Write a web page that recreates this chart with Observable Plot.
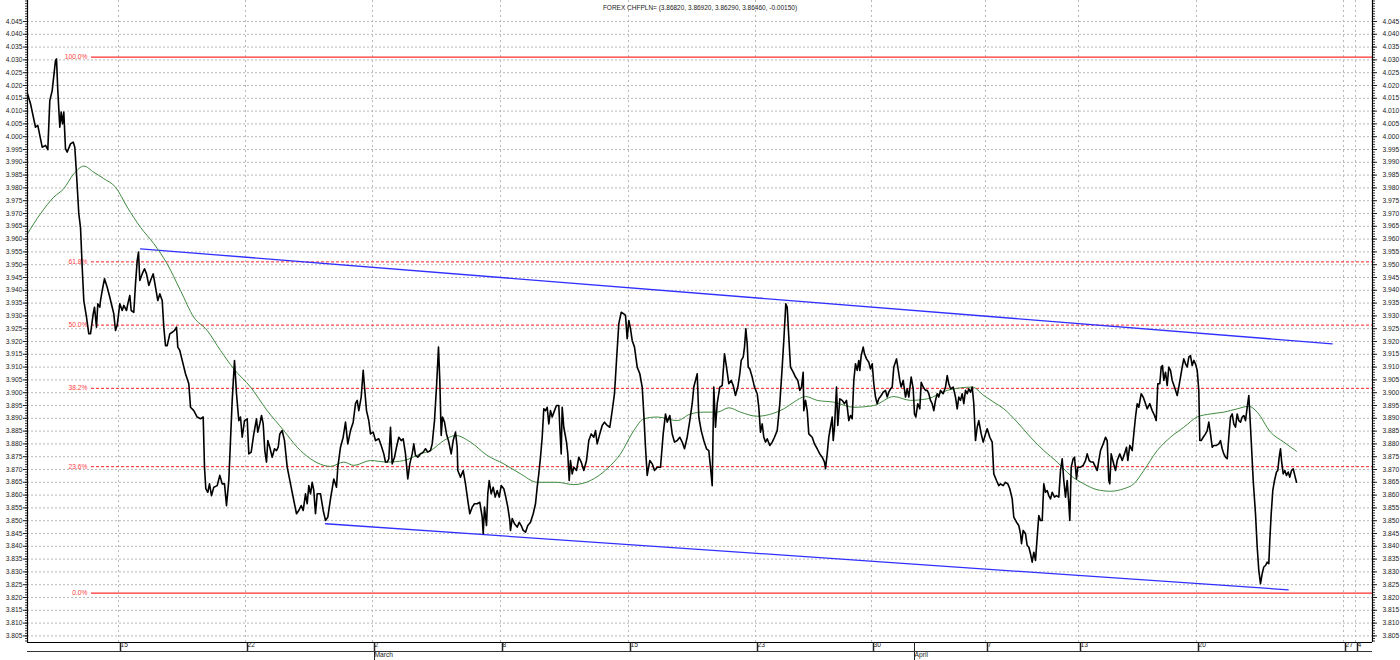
<!DOCTYPE html>
<html>
<head>
<meta charset="utf-8">
<script src="https://cdn.jsdelivr.net/npm/d3@7"></script>
<script src="https://cdn.jsdelivr.net/npm/@observablehq/plot@0.6"></script>
<style>
  html, body { margin: 0; padding: 0; background: #fff; overflow: hidden; }
  #chart { width: 1400px; height: 660px; }
</style>
</head>
<body>
<div id="chart"></div>
<script>
// ---- data (x = bar position along the time axis, y = CHF/PLN price) ----
const title = "FOREX CHFPLN= (3.86820, 3.86920, 3.86290, 3.86460, -0.00150)";

const priceT = [0,3,8,10.3,14.7,18,20.3,22.3,24.7,28,29,30.3,32.3,33.7,35,36.3,38,39.7,43,45.7,47.3,49,51.3,53,54.7,56.3,59,61.3,63,65.7,67,69,70.3,72.3,73,74.7,77,79.7,82.3,84.7,86.3,88,89.7,92.3,94.7,96.3,99,100.3,102.3,103.7,106.3,108,109.7,111,112.3,114.7,117,119,121.3,123.7,125.7,128,130.3,132.3,134.7,136.3,138,139.7,142.3,144.7,147,149,150.3,152.3,154.7,158,161.3,163,166.3,169.7,173,175.7,177,178.3,180.3,182,184,186.3,189.7,192.3,194.7,197,199,201.3,203,204.7,207,209,211.3,213,214.7,217,219.7,221.3,223.7,226.3,229,230.3,232.3,234,235.7,237.3,239,240.3,242.3,244.7,247,249,250.7,252.3,254.7,257,259.7,263,266.3,269,271.3,273.7,275.7,278,279.7,281.3,283,284.7,286.3,288,289.7,293,295.7,298,300.3,
303,306.3,309,310.3,313,315.7,318,320.3,323,325.7,328,329.7,331.3,333.7,335.7,337,339,341.3,343,345.7,348,351.3,353.7,356.3,358,359.7,361.3,363,364.7,367,369,371.3,373.7,375.7,378,380.3,382.3,384.7,386.3,388,390.3,393,395.7,398,400.3,403,404.7,407,409,411,412.3,413.7,415,417,419,421.3,423.7,425.7,428,429.7,430.3,433,435.7,438,440.3,442.3,444.7,447,449.7,452.3,454.7,455.7,457,459,460.3,461.7,463.7,465.7,467.7,469.7,471.7,473.7,476.3,478.3,480.3,482.3,483,484.7,487,489.7,491.7,493.7,495.7,498,500.3,503,505.7,508,509.7,511.3,513,514.7,516.3,518,519.7,521.3,523,524.7,527,529,531.3,532.3,533.7,534.7,536.3,539,540.3,541.7,543,544.7,546.3,549,551.3,553.7,556.3,559,561.3,563.7,566.3,568,569.7,572.3,574.7,577,579.7,582.3,584.7,587,589,591.3,593.7,596.3,598,599.7,601.3,603,604.7,607,609.7,612.3,614.7,616.3,618,619.7,622.3,624.7,627,629.7,
633,635.7,638,639.7,642.3,644.7,647,649.7,652.3,654.7,657,659.7,662.3,664.7,666.3,668,669.7,671.3,673.7,676.3,679,681.3,683,684.7,686.3,688,689.7,692.3,694.7,697,699,701.3,703.7,705.7,708,710.3,712.3,713.7,715.7,717,718.3,719.7,720.7,722.3,724.7,727,729.7,731.3,733,734.7,736.3,738,739.7,742.3,744.7,747,749.7,752.3,754.7,756.3,758.3,759.7,761.3,763,765.7,768,770.3,772.3,774,775.7,776.3,778,779.7,781.3,784.7,787,789.7,792.3,794.7,797,798,799.7,801.3,803,804.7,805.7,807,809,810.3,812.3,814.7,817,819,821.3,823,824.7,826.3,828,829.7,831.3,832.3,833.7,835.7,837,839,841.3,843,844.7,846.3,848,849.7,851.3,853.7,855.7,858,859.7,861.3,863,864.7,866.3,869,870.3,872.3,873.7,875.7,878,879.7,881.3,883.7,885.7,887,888.3,890.3,892.3,893.7,895.7,898,899.7,901.3,903,904.7,906.3,908,909.7,911.3,913,915.7,918,919.7,921.3,923,925.7,928,929.7,931.3,933,934.7,936.3,938,939.7,941.3,943,944.7,946.3,948,949.7,951.3,953.7,955.7,958,959.7,962.3,
964.7,966.3,969,971.3,973,975.7,978,980.3,982.3,984.7,986.3,989,991.3,993,994,995.7,998,999.7,1001.3,1003,1004.7,1006.3,1008,1009.7,1011.3,1013,1014.7,1016.3,1018,1019.7,1021.3,1023,1024.7,1027,1029,1031.3,1033,1034.7,1036.3,1038,1039.7,1041.3,1042.3,1043.7,1045.7,1047,1049,1050.3,1053,1055.7,1058,1059.7,1061.7,1063.7,1065.7,1068,1069.7,1071.3,1073,1075.7,1078,1079.7,1081.3,1082.3,1083.7,1085.7,1088,1089.7,1092.3,1094.7,1097,1099,1100.3,1102.3,1104.7,1106.3,1108,1109.7,1111.3,1113.7,1115.7,1118,1119.7,1122.3,1124.7,1127,1128.7,1130.3,1132.3,1133.7,1135,1136.3,1138,1139.7,1141.3,1143,1144.7,1147,1149.7,1151.3,1153,1154.7,1156.3,1158,1159.7,1161.3,1163,1164.7,1166.3,1168,1169.7,1171.3,1172.3,1173.7,1175.7,1178,1179.7,1181.3,1183,1184.7,1186.3,1189,1191.3,1193,1194.7,1196.3,1198,1199.7,1201.3,1203,1204.7,1206.3,1208,1209.7,1211.3,1213,1214.7,1216.3,1218,1219.7,1221.3,1222.3,1223.7,1225.7,1228,1229.7,1231.3,1233,1234.7,1236.3,1238,1239.7,1241.3,1242.3,1243.7,1245.3,1247,1249,1250.3,1251.7,1253,1254,1255.7,1257.3,1259,1260.7,1262.3,1264,1265.7,1267.3,1269];

const priceV = [4.0168,4.0129,4.0037,4.0044,3.9959,3.9966,3.9949,4.0141,4.0180,4.0298,4.0304,4.0180,4.0037,4.0096,4.0050,4.0096,3.9953,3.9940,3.9972,3.9979,3.9959,3.9855,3.9699,3.9646,3.9490,3.9360,3.9295,3.9230,3.9230,3.9308,3.9334,3.9256,3.9347,3.9334,3.9360,3.9399,3.9445,3.9412,3.9373,3.9334,3.9308,3.9243,3.9263,3.9347,3.9321,3.9341,3.9321,3.9347,3.9380,3.9321,3.9314,3.9425,3.9516,3.9549,3.9438,3.9464,3.9484,3.9464,3.9419,3.9445,3.9464,3.9412,3.9360,3.9386,3.9360,3.9256,3.9184,3.9184,3.9230,3.9236,3.9243,3.9256,3.9178,3.9165,3.9126,3.9074,3.9035,3.8943,3.8930,3.8905,3.8898,3.8905,3.8709,3.8625,3.8611,3.8644,3.8598,3.8631,3.8637,3.8677,3.8644,3.8644,3.8559,3.8657,3.8813,3.8970,3.9126,3.8996,3.8891,3.8905,3.8826,3.8891,3.8898,3.8761,3.8768,3.8839,3.8898,3.8846,3.8878,3.8911,3.8878,3.8774,3.8729,3.8813,3.8787,3.8748,3.8781,3.8774,3.8787,3.8839,3.8852,3.8813,3.8709,3.8644,3.8579,3.8527,3.8540,3.8559,3.8540,3.8605,3.8566,3.8637,3.8605,3.8650,3.8618,3.8527,3.8605,3.8605,3.8540,3.8501,3.8514,
3.8585,3.8663,3.8631,3.8709,3.8787,3.8826,3.8885,3.8800,3.8852,3.8885,3.8957,3.8970,3.8930,3.8983,3.9087,3.9022,3.8930,3.8891,3.8839,3.8846,3.8813,3.8820,3.8794,3.8761,3.8729,3.8729,3.8742,3.8865,3.8722,3.8748,3.8787,3.8826,3.8813,3.8820,3.8761,3.8663,3.8722,3.8761,3.8800,3.8755,3.8748,3.8761,3.8768,3.8781,3.8768,3.8774,3.8800,3.8891,3.9022,3.9178,3.9048,3.8833,3.8905,3.8885,3.8839,3.8807,3.8761,3.8813,3.8846,3.8787,3.8696,3.8670,3.8696,3.8644,3.8579,3.8527,3.8553,3.8566,3.8566,3.8572,3.8514,3.8449,3.8553,3.8481,3.8605,3.8657,3.8605,3.8631,3.8592,3.8618,3.8592,3.8637,3.8625,3.8592,3.8553,3.8501,3.8462,3.8508,3.8488,3.8475,3.8494,3.8481,3.8462,3.8455,3.8481,3.8494,3.8527,3.8566,3.8631,3.8683,3.8748,3.8826,3.8937,3.8930,3.8943,3.8878,3.8930,3.8905,3.8930,3.8950,3.8950,3.8865,3.8761,3.8943,3.8865,3.8807,3.8761,3.8657,3.8735,3.8683,3.8709,3.8696,3.8748,3.8729,3.8696,3.8735,3.8813,3.8839,3.8826,3.8852,3.8800,3.8839,3.8872,3.8885,3.8872,3.8865,3.8930,3.8996,3.9126,3.9269,3.9314,3.9308,3.9302,3.9211,3.9282,3.9250,3.9204,3.9178,3.9100,3.9074,3.9022,3.8917,3.8787,3.8677,3.8735,3.8722,3.8696,3.8709,
3.8709,3.8839,3.8917,3.8885,3.8911,3.8839,3.8807,3.8813,3.8826,3.8807,3.8781,3.8826,3.8891,3.8957,3.9022,3.9048,3.9074,3.8905,3.8852,3.8813,3.8781,3.8774,3.8709,3.8637,3.9022,3.8865,3.8957,3.9022,3.9028,3.9152,3.9100,3.9035,3.9048,3.9028,3.8989,3.9022,3.9074,3.9126,3.9139,3.9178,3.9250,3.9191,3.9100,3.9093,3.9061,3.9022,3.8996,3.8943,3.8846,3.8878,3.8826,3.8807,3.8820,3.8794,3.8807,3.8826,3.8852,3.8957,3.9100,3.9204,3.9347,3.9334,3.9217,3.9100,3.9080,3.9061,3.9048,3.9009,3.9022,3.9080,3.8930,3.8970,3.8930,3.8839,3.8826,3.8800,3.8781,3.8761,3.8748,3.8729,3.8703,3.8761,3.8826,3.8865,3.8905,3.8813,3.8865,3.9022,3.8872,3.8976,3.8970,3.8957,3.8970,3.8891,3.8911,3.8898,3.9048,3.9113,3.9087,3.9126,3.9087,3.9145,3.9178,3.9152,3.9132,3.9119,3.9093,3.9113,3.9035,3.8983,3.8957,3.8976,3.8989,3.9002,3.9009,3.8983,3.9002,3.9015,3.9022,3.9100,3.9132,3.9100,3.9048,3.9022,3.9048,3.8983,3.9015,3.8983,3.9061,3.9015,3.8917,3.8905,3.8957,3.8937,3.9041,3.9022,3.9009,3.9009,3.8996,3.8970,3.8957,3.8930,3.8970,3.8996,3.8983,3.9009,3.8996,3.9022,3.9067,3.9035,3.9015,3.9022,3.8983,3.8937,3.8983,3.8970,3.8996,3.8957,3.9009,3.8996,3.9015,3.9002,3.9022,3.8957,3.8813,3.8865,3.8891,3.8839,3.8807,3.8839,3.8859,3.8826,
3.8807,3.8683,3.8657,3.8637,3.8644,3.8637,3.8650,3.8644,3.8625,3.8585,3.8514,3.8494,3.8481,3.8449,3.8410,3.8462,3.8449,3.8403,3.8397,3.8371,3.8338,3.8377,3.8345,3.8436,3.8520,3.8501,3.8501,3.8644,3.8611,3.8618,3.8598,3.8585,3.8611,3.8592,3.8598,3.8592,3.8696,3.8742,3.8657,3.8592,3.8657,3.8566,3.8501,3.8709,3.8742,3.8748,3.8663,3.8709,3.8709,3.8716,3.8735,3.8761,3.8735,3.8729,3.8729,3.8709,3.8696,3.8735,3.8774,3.8800,3.8826,3.8813,3.8657,3.8644,3.8761,3.8729,3.8696,3.8735,3.8761,3.8735,3.8761,3.8787,3.8735,3.8794,3.8774,3.8839,3.8905,3.8957,3.8943,3.8996,3.8983,3.8957,3.8937,3.8957,3.8930,3.8911,3.8891,3.9035,3.9035,3.9100,3.9106,3.9048,3.9080,3.9028,3.9100,3.9087,3.9048,3.9022,3.8989,3.9022,3.9061,3.9100,3.9132,3.9113,3.9100,3.9139,3.9145,3.9106,3.9126,3.9113,3.9087,3.9009,3.8813,3.8813,3.8826,3.8839,3.8852,3.8885,3.8839,3.8787,3.8794,3.8794,3.8800,3.8813,3.8781,3.8761,3.8748,3.8742,3.8826,3.8905,3.8917,3.8878,3.8865,3.8917,3.8891,3.8885,3.8905,3.8911,3.8891,3.8943,3.8989,3.8917,3.8813,3.8657,3.8527,3.8397,3.8306,3.8254,3.8293,3.8319,3.8325,3.8338,3.8332,3.8423,3.8527,3.8618,3.8657,3.8690,3.8696,3.8748,3.8781,3.8735,3.8683,3.8696,3.8677,3.8690,3.8670,3.8696,3.8703,3.8677,3.8650];

const maT = [0,13,26.3,36.3,46.3,56.3,66.3,76.3,88,99.7,113,126.3,139.7,153,166.3,179.7,193,206.3,223,239.7,256.3,269.7,283,296.3,303,316.3,326.3,343,359.7,376.3,393,403,416.3,428,443,459.7,476.3,493,509.7,529.7,546.3,563,579.7,593,606.3,616.3,629.7,649.7,663,676.3,689.7,701.3,713,729.7,746.3,756.3,766.3,778,789.7,806.3,826.3,846.3,866.3,883,899.7,919.7,933,944.7,956.3,966.3,976.3,989.7,1003,1016.3,1029.7,1043,1056.3,1069.7,1083,1096.3,1106.3,1116.3,1129.7,1143,1156.3,1169.7,1183,1196.3,1209.7,1221.3,1229.7,1243,1256.3,1269];
const maV = [3.9621,3.9699,3.9764,3.9797,3.9855,3.9885,3.9861,3.9836,3.9803,3.9725,3.9646,3.9582,3.9503,3.9399,3.9295,3.9243,3.9165,3.9093,3.9022,3.8930,3.8852,3.8787,3.8742,3.8716,3.8712,3.8729,3.8716,3.8735,3.8729,3.8735,3.8761,3.8774,3.8813,3.8833,3.8807,3.8755,3.8722,3.8683,3.8650,3.8650,3.8641,3.8657,3.8703,3.8761,3.8852,3.8898,3.8905,3.8891,3.8917,3.8924,3.8924,3.8941,3.8924,3.8908,3.8920,3.8937,3.8963,3.8985,3.8970,3.8963,3.8943,3.8950,3.8985,3.8970,3.8976,3.9009,3.9019,3.9022,3.8989,3.8963,3.8937,3.8885,3.8826,3.8774,3.8729,3.8677,3.8644,3.8621,3.8615,3.8625,3.8644,3.8696,3.8774,3.8826,3.8865,3.8905,3.8917,3.8924,3.8937,3.8947,3.8924,3.8846,3.8807,3.8771];

const upperT = [113, 1304.7];
const upperV = [3.9562, 3.9191];
const lowerT = [298, 1260.7];
const lowerV = [3.8488, 3.8230];

const fibLabels = ["100.0%", "61.8%", "50.0%", "38.2%", "23.6%", "0.0%"];
const fibValues = [4.0311, 3.9511, 3.9264, 3.9017, 3.8711, 3.8217];
const fibSolid  = [true, false, false, false, false, true];

const weekTicks  = [91, 218, 345, 473, 601, 728, 844, 958, 1051, 1169, 1316, 1328];
const weekLabels = ["15", "22", "2", "8", "15", "23", "30", "7", "13", "20", "27", "4"];
const monthTicks  = [345, 885];
const monthLabels = ["March", "April"];

// ---- chart ----
const xDomain = [0, 1345];
const yDomain = [3.80242, 4.05320];
const majorY = d3.range(761, 810).map(i => +(i * 0.005).toFixed(3));
const minorY = d3.range(3803, 4054).map(i => i / 1000);
const priceIdx = d3.range(priceT.length);
const maIdx = d3.range(maT.length);
const fibIdx = d3.range(fibValues.length);
const weekMap = new Map(weekTicks.map((t, i) => [t, weekLabels[i]]));
const monthMap = new Map(monthTicks.map((t, i) => [t, monthLabels[i]]));

const chart = Plot.plot({
  width: 1400,
  height: 660,
  marginLeft: 27,
  marginRight: 28,
  marginTop: 0,
  marginBottom: 18,
  x: {domain: xDomain, axis: null},
  y: {domain: yDomain, axis: null},
  style: {fontFamily: "'Liberation Sans', Arial, sans-serif", fontSize: "6.7px", background: "#fff", color: "#222"},
  marks: [
    // grid
    Plot.ruleY(majorY, {stroke: "#b8b8b8", strokeDasharray: "2,2", strokeWidth: 1}),
    Plot.ruleX(weekTicks, {stroke: "#b8b8b8", strokeDasharray: "2,3", strokeWidth: 1}),
    // title
    Plot.text([title], {frameAnchor: "top", dy: 5, fontSize: 6.5, fill: "#222"}),
    // fibonacci levels
    Plot.ruleY(fibIdx.filter(i => fibSolid[i]), {y: i => fibValues[i], x1: 64, x2: xDomain[1], stroke: "#ff3030", strokeWidth: 1.3}),
    Plot.ruleY(fibIdx.filter(i => !fibSolid[i]), {y: i => fibValues[i], x1: 64, x2: xDomain[1], stroke: "#ff2020", strokeWidth: 1, strokeDasharray: "3,2"}),
    Plot.text(fibIdx, {x: 60, y: i => fibValues[i], text: i => fibLabels[i], textAnchor: "end", fill: "#ff4040", fontSize: 6.7}),
    // trend channel
    Plot.line([0, 1], {x: i => upperT[i], y: i => upperV[i], stroke: "#3030ff", strokeWidth: 1.3}),
    Plot.line([0, 1], {x: i => lowerT[i], y: i => lowerV[i], stroke: "#3030ff", strokeWidth: 1.3}),
    // moving average
    Plot.line(maIdx, {x: i => maT[i], y: i => maV[i], stroke: "#3f8a3f", strokeWidth: 1, curve: "monotone-x"}),
    // price
    Plot.line(priceIdx, {x: i => priceT[i], y: i => priceV[i], stroke: "#000", strokeWidth: 1.6, strokeLinejoin: "round"}),
    // frame lines
    Plot.ruleX(xDomain, {stroke: "#000", strokeWidth: 1.2}),
    Plot.ruleY([yDomain[0]], {stroke: "#000", strokeWidth: 1.2}),
    // y axes
    Plot.axisY(minorY, {anchor: "left", tickSize: 2, text: null, stroke: "#333"}),
    Plot.axisY(minorY, {anchor: "right", tickSize: 2, text: null, stroke: "#333"}),
    Plot.axisY(majorY, {anchor: "left", tickSize: 4, tickPadding: 1, tickFormat: d3.format(".3f"), fontSize: 6.7, fill: "#222"}),
    Plot.axisY(majorY, {anchor: "right", tickSize: 4, tickPadding: 6, tickFormat: d3.format(".3f"), fontSize: 6.7, fill: "#222"}),
    // x axis: week labels and month labels
    Plot.axisX(weekTicks, {anchor: "bottom", tickSize: 9, tickPadding: -9, textAnchor: "start", dx: 2, tickFormat: t => weekMap.get(t), fontSize: 6.7, stroke: "#222", strokeWidth: 1.5, fill: "#222"}),
    Plot.axisX(monthTicks, {anchor: "bottom", tickSize: 18, tickPadding: -8, textAnchor: "start", dx: 2, tickFormat: t => monthMap.get(t), fontSize: 6.7, stroke: "#222", fill: "#222"})
  ]
});

// separator line under the day labels
d3.select(chart).append("line")
  .attr("x1", 27).attr("x2", 1372).attr("y1", 651.5).attr("y2", 651.5)
  .attr("stroke", "#333").attr("stroke-width", 1.2);

document.getElementById("chart").appendChild(chart);
</script>
</body>
</html>
